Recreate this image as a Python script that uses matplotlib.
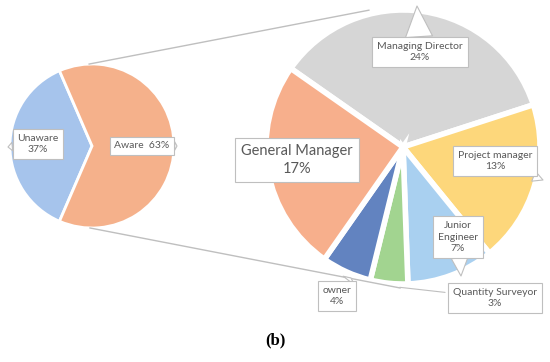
import numpy as np
import matplotlib
matplotlib.use('Agg')
import matplotlib.pyplot as plt

# Left pie: awareness
aware_labels = ['Unaware', 'Aware']
aware_values = [37, 63]
aware_colors = ['#A6C4EC', '#F5B18B']

# Right pie: breakdown by position
role_labels = ['Managing Director', 'Project manager', 'Junior\nEngineer',
               'Quantity Surveyor', 'owner', 'General Manager']
role_values = [24, 13, 7, 3, 4, 17]
role_colors = ['#D6D6D6', '#FDD77B', '#A9D0F0', '#A2D490', '#6283C0', '#F7AF8C']

plt.rcParams['font.family'] = ['Lato', 'DejaVu Sans']
TXT = '#595959'
EDGE = '#BFBFBF'

fig = plt.figure(figsize=(5.5, 3.62), dpi=100)
ax = fig.add_axes([0, 0, 1, 1])

# geometry (pixel space, y up)
c1, r1 = (92, 216), 82
c2, r2 = (403, 215), 137

start1 = 180 - aware_values[0] / sum(aware_values) * 180
ax.pie(aware_values, colors=aware_colors, center=c1, radius=r1,
       startangle=start1, explode=[0.05, 0.05],
       wedgeprops=dict(edgecolor='white', linewidth=2), frame=True)

ax.pie(role_values, colors=role_colors, center=c2, radius=r2,
       startangle=145, counterclock=False, explode=[0.02] * 6,
       wedgeprops=dict(edgecolor='white', linewidth=4), frame=True)
ax.set_xlim(0, 550)
ax.set_ylim(0, 362)
ax.set_aspect('equal')
ax.axis('off')

# connector lines between the two pies
def on_circle(c, r, deg):
    a = np.radians(deg)
    return c[0] + r * np.cos(a), c[1] + r * np.sin(a)

for a1, a2 in [(92, 104), (268.6, 268.8)]:
    p1 = on_circle(c1, r1, a1)
    p2 = on_circle(c2, r2 + 4, a2)
    ax.plot([p1[0], p2[0]], [p1[1], p2[1]], color=EDGE, lw=1, zorder=1)

box = dict(boxstyle='square,pad=0.45', fc='white', ec=EDGE, lw=0.8)

def callout(w):
    return dict(arrowstyle=f'wedge,tail_width={w},shrink_factor=0.5',
                fc='white', ec=EDGE, lw=0.8, shrinkA=0, shrinkB=0)

def label(text, xy_text, xy_point=None, size=7.5, arrow=None):
    kw = {}
    if xy_point is not None:
        kw['arrowprops'] = arrow
        kw['xy'] = (xy_point[0], 362 - xy_point[1])
    else:
        kw['xy'] = (xy_text[0], 362 - xy_text[1])
    ax.annotate(text, xytext=(xy_text[0], 362 - xy_text[1]),
                ha='center', va='center', fontsize=size, color=TXT,
                linespacing=1.35, bbox=box, zorder=5, **kw)

pcts = [f'{v}%' for v in aware_values]
label(f'{aware_labels[0]}\n{pcts[0]}', (38, 144), (8, 147), arrow=callout(0.8))
label(f'{aware_labels[1]}  {pcts[1]}', (142, 146), (177, 146), arrow=callout(0.8))

rp = [f'{v}%' for v in role_values]
label(f'{role_labels[0]}\n{rp[0]}', (420, 52), (417, 6), arrow=callout(2.6))
label(f'{role_labels[1]}\n{rp[1]}', (495, 161), (543, 180), arrow=callout(1.0))
label(f'{role_labels[2]}\n{rp[2]}', (458, 237), (461, 276), arrow=callout(1.6))
label(f'{role_labels[3]}\n{rp[3]}', (495, 298), (397, 287),
      arrow=dict(arrowstyle='-', color=EDGE, lw=0.8))
label(f'{role_labels[4]}\n{rp[4]}', (337, 296), (351, 278), arrow=callout(1.4))
label(f'{role_labels[5]}\n{rp[5]}', (297, 160), size=10.5)

ax.text(275, 362 - 340, '(b)', ha='center', va='center', fontsize=12,
        fontweight='bold', family='Liberation Serif', color='black')

fig.savefig('out.png', dpi=100)
